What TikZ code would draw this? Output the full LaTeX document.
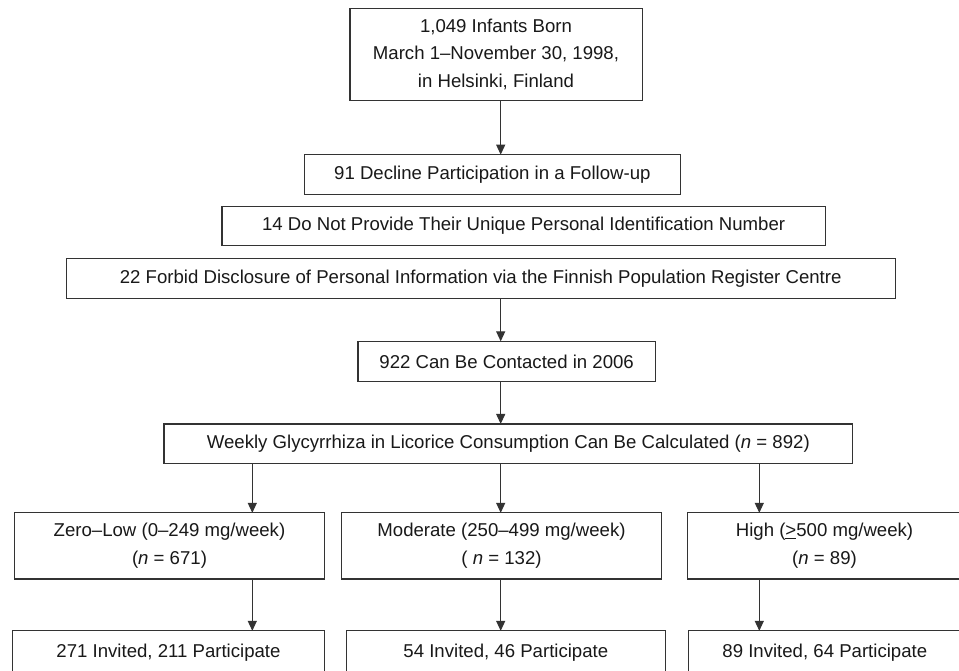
\documentclass[tikz,border=0pt]{standalone}
\usepackage{fontspec}
\setmainfont{Liberation Sans}
\usetikzlibrary{arrows.meta, positioning}
\tikzset{
    flowbox/.style={rectangle, draw=black!80, line width=1.2pt, fill=white, text=black!90, align=center, inner sep=0pt, outer sep=0pt, font=\fontsize{18.6}{27.5}\selectfont},
    arrow/.style={-{Triangle[length=10pt, width=9pt]}, draw=black!80, line width=1.2pt}
}

\begin{document}
\begin{tikzpicture}[x=1pt, y=-1pt]
\useasboundingbox (0,0) rectangle (959,670);

% Nodes
\node (born) [flowbox, minimum width=292.2pt, minimum height=92.1pt] at (496,54.4) {1,049 Infants Born\\March 1–November 30, 1998,\\in Helsinki, Finland};

\node (decline) [flowbox, minimum width=375.5pt, minimum height=39.8pt, below=54.2pt of born, xshift=-3.65pt] {91 Decline Participation in a Follow-up};

\node (noid) [flowbox, minimum width=603.5pt, minimum height=39.1pt, below=11.9pt of decline, xshift=31.3pt] {14 Do Not Provide Their Unique Personal Identification Number};

\node (forbid) [flowbox, minimum width=828.8pt, minimum height=40.1pt, below=12.9pt of noid, xshift=-42.95pt] {22 Forbid Disclosure of Personal Information via the Finnish Population Register Centre};

\node (contact) [flowbox, minimum width=297.5pt, minimum height=40.1pt, below=42.9pt of forbid, xshift=25.95pt] {922 Can Be Contacted in 2006};

\node (calc) [flowbox, minimum width=688.8pt, minimum height=39.5pt, below=42.5pt of contact, xshift=1.65pt] {Weekly Glycyrrhiza in Licorice Consumption Can Be Calculated (\textit{n} = 892)};

% Consumption groups
\node (mod) [flowbox, minimum width=319.8pt, minimum height=66.1pt, below=49.4pt of calc, xshift=-6.8pt] {Moderate (250–499 mg/week)\\( \textit{n} = 132)};
\node (low) [flowbox, minimum width=309.8pt, minimum height=66.1pt, left=17.2pt of mod] {Zero–Low (0–249 mg/week)\\(\textit{n} = 671)};
\node (high) [flowbox, minimum width=273.8pt, minimum height=66.1pt, right=26.2pt of mod] {High (\underline{>}500 mg/week)\\(\textit{n} = 89)};

% Participation (bottom edge runs off the page)
\node (modinv) [flowbox, minimum width=319.1pt, minimum height=43pt, below=51.9pt of mod, xshift=4.35pt] {54 Invited, 46 Participate};
\node (lowinv) [flowbox, minimum width=311.8pt, minimum height=43pt, left=21.9pt of modinv] {271 Invited, 211 Participate};
\node (highinv) [flowbox, minimum width=273pt, minimum height=43pt, right=22.9pt of modinv] {89 Invited, 64 Participate};

% Arrows
\draw [arrow] ([xshift=4.7pt]born.south) -- ([xshift=4.7pt]born.south |- decline.north);
\draw [arrow] ([xshift=20pt]forbid.south) -- ([xshift=20pt]forbid.south |- contact.north);
\draw [arrow] ([xshift=-5.95pt]contact.south) -- ([xshift=-5.95pt]contact.south |- calc.north);

\draw [arrow] ([xshift=82.8pt]low.north |- calc.south) -- ([xshift=82.8pt]low.north);
\draw [arrow] ([xshift=-0.8pt]mod.north |- calc.south) -- ([xshift=-0.8pt]mod.north);
\draw [arrow] ([xshift=-65.2pt]high.north |- calc.south) -- ([xshift=-65.2pt]high.north);

\draw [arrow] ([xshift=82.8pt]low.south) -- ([xshift=82.8pt]low.south |- lowinv.north);
\draw [arrow] ([xshift=-0.8pt]mod.south) -- ([xshift=-0.8pt]mod.south |- modinv.north);
\draw [arrow] ([xshift=-65.2pt]high.south) -- ([xshift=-65.2pt]high.south |- highinv.north);

\end{tikzpicture}
\end{document}
